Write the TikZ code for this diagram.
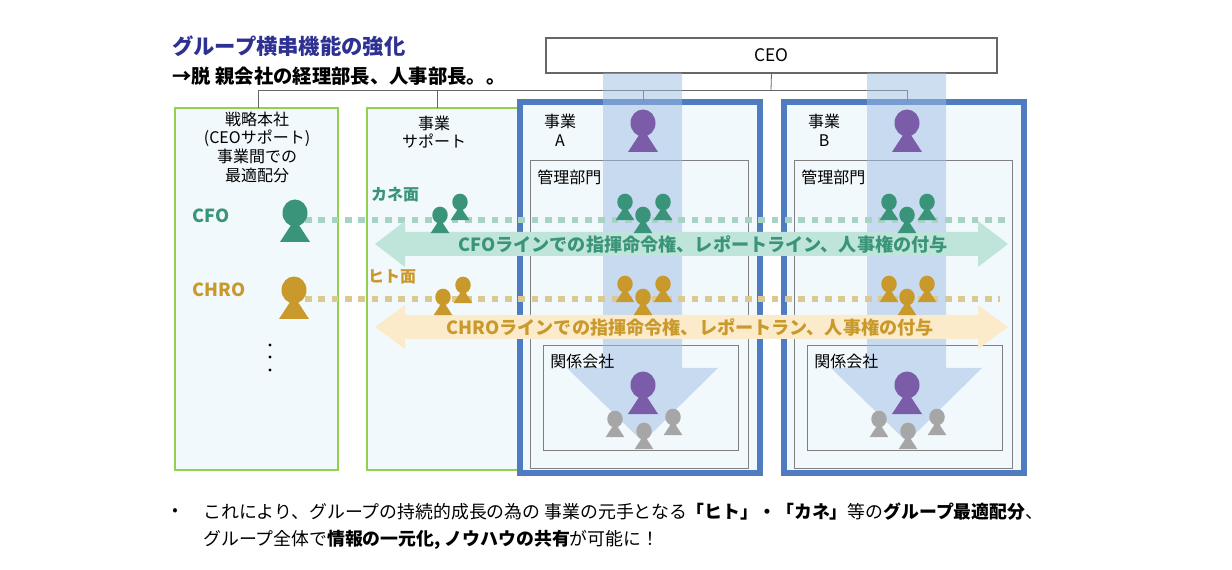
\documentclass[tikz,border=0pt]{standalone}
\usepackage{fontspec}
\setmainfont{Noto Sans CJK JP}
\usetikzlibrary{positioning}
\definecolor{titleblue}{HTML}{2E3192}
\definecolor{cfogreen}{HTML}{3A9479}
\definecolor{cfolight}{HTML}{BFE5DA}
\definecolor{cfodot}{HTML}{A8D3C4}
\definecolor{hrgold}{HTML}{C9992B}
\definecolor{hrlight}{HTML}{FCEBCB}
\definecolor{hrdot}{HTML}{DCC98F}
\definecolor{ceopurple}{HTML}{7B5CA8}
\definecolor{staffgrey}{HTML}{A6A6A6}
\definecolor{boxgreen}{HTML}{92D050}
\definecolor{boxblue}{HTML}{4F7CC0}
\definecolor{paleblue}{HTML}{F2F9FC}
\definecolor{flowblue}{HTML}{9DBDE3}
\tikzset{
  lbl/.style={font=\fontsize{12}{14}\selectfont, align=center, inner sep=0pt},
  person/.pic={
    \fill (0,-8) ellipse (12.5 and 13.5);
    \fill (0,-2) -- (-15,21) -- (15,21) -- cycle;
  },
  greenbox/.style={draw=boxgreen, line width=1.5pt, fill=paleblue},
  bizbox/.style={draw=boxblue, line width=4pt, fill=paleblue},
  greybox/.style={draw=gray, line width=0.6pt},
  orgline/.style={draw=gray!80!black, line width=0.6pt},
  dotline/.style={line width=5pt, dash pattern=on 5pt off 5pt}
}
\begin{document}
\begin{tikzpicture}[x=0.75pt,y=-0.75pt]
\useasboundingbox (0,0) rectangle (1232,570);
% title
\node[anchor=west, inner sep=0pt, font=\fontsize{16}{18}\selectfont\bfseries, text=titleblue] (title) at (172,46) {グループ横串機能の強化};
\node[anchor=west, inner sep=0pt, font=\fontsize{14.5}{16}\selectfont\bfseries] (subtitle) at (172,76) {→脱 親会社の経理部長、人事部長。。};
% organisation boxes
\node[draw=gray!80!black, line width=0.8pt, minimum width=451*0.75pt, minimum height=35*0.75pt, font=\fontsize{13}{15}\selectfont] (ceo) at (771.5,55.5) {CEO};
\draw[greenbox] (175,108) rectangle (338,470);
\draw[greenbox] (367,108) rectangle (529,470);
\draw[bizbox] (520,102) rectangle (760,473);
\draw[bizbox] (784,102) rectangle (1024,473);
\coordinate (hq) at (258,108);
\coordinate (sup) at (437,108);
\coordinate (bizA) at (643,102);
\coordinate (bizB) at (907,102);
\coordinate (bus) at (771,90);
\draw[orgline] (ceo.south) -- (bus);
\foreach \b in {hq,sup,bizA,bizB}
  \draw[orgline] (\b) -- (\b |- bus);
\draw[orgline] (hq |- bus) -- (bizB |- bus);
% inner sections
\foreach \dx/\n in {0/A,264/B}{
  \draw[greybox] (530+\dx,160) rectangle (748+\dx,468);
  \draw[greybox] (543+\dx,345) rectangle (738+\dx,450);
  \fill[flowblue, opacity=0.5] (603+\dx,73) -- (682+\dx,73) -- (682+\dx,368) -- (718+\dx,368)
    -- (643+\dx,442) -- (567+\dx,368) -- (603+\dx,368) -- cycle;
  \node[lbl] (biz\n) at (560+\dx,130) {事業\\\n};
  \node[lbl, anchor=west] (kanri\n) at (537+\dx,177) {管理部門};
  \node[lbl, anchor=west] (kankei\n) at (550+\dx,361) {関係会社};
}
% dotted lines
\coordinate (cfoS) at (305,220);
\coordinate (cfoE) at (1005,220);
\coordinate (hrS) at (305,299);
\coordinate (hrE) at (1000,299);
\draw[dotline, cfodot] (cfoS) -- (cfoE);
\draw[dotline, hrdot] (hrS) -- (hrE);
% double arrows
\fill[cfolight] (375,244) -- (405,221) -- (405,232) -- (978,232) -- (978,221) -- (1008,244)
  -- (978,267) -- (978,256) -- (405,256) -- (405,267) -- cycle;
\node[font=\fontsize{13.6}{15}\selectfont\bfseries, text=cfogreen, inner sep=0pt] (cfoline) at (703,244) {CFOラインでの指揮命令権、レポートライン、人事権の付与};
\fill[hrlight] (375,327) -- (405,305) -- (405,315) -- (978,315) -- (978,305) -- (1008,327)
  -- (978,349) -- (978,339) -- (405,339) -- (405,349) -- cycle;
\node[font=\fontsize{13.6}{15}\selectfont\bfseries, text=hrgold, inner sep=0pt] (hrline) at (690,327) {CHROラインでの指揮命令権、レポートラン、人事権の付与};
% headquarters
\node[lbl] (senryaku) at (257,147) {戦略本社\\(CEOサポート)\\事業間での\\最適配分};
\node[lbl] (jigyosup) at (434,132) {事業\\サポート};
\node[font=\fontsize{13.5}{15}\selectfont\bfseries, text=cfogreen, inner sep=0pt] (cfo) at (211,216) {CFO};
\node[font=\fontsize{13.5}{15}\selectfont\bfseries, text=hrgold, inner sep=0pt] (chro) at (219,290) {CHRO};
\pic[fill=cfogreen] at (295,221) {person};
\pic[fill=hrgold] at (294,298) {person};
\foreach \y in {345,357,370} \fill (270,\y) circle (1.6);
\node[font=\fontsize{12}{14}\selectfont\bfseries, text=cfogreen, inner sep=0pt] (kane) at (395,195) {カネ面};
\node[font=\fontsize{12}{14}\selectfont\bfseries, text=hrgold, inner sep=0pt] (hito) at (392,277) {ヒト面};
\pic[fill=cfogreen, scale=0.62] at (440,220) {person};
\pic[fill=cfogreen, scale=0.62] at (460,207) {person};
\pic[fill=hrgold, scale=0.62] at (443,302) {person};
\pic[fill=hrgold, scale=0.62] at (463,290) {person};
% business people
\foreach \dx in {0,264}{
  \pic[fill=ceopurple] at (643+\dx,131) {person};
  \pic[fill=ceopurple] at (643+\dx,393) {person};
  \pic[fill=cfogreen, scale=0.62] at (625+\dx,207) {person};
  \pic[fill=cfogreen, scale=0.62] at (663+\dx,207) {person};
  \pic[fill=cfogreen, scale=0.62] at (643+\dx,220) {person};
  \pic[fill=hrgold, scale=0.62] at (625+\dx,289) {person};
  \pic[fill=hrgold, scale=0.62] at (663+\dx,289) {person};
  \pic[fill=hrgold, scale=0.62] at (643+\dx,302) {person};
  \pic[fill=staffgrey, scale=0.62] at (615+\dx,424) {person};
  \pic[fill=staffgrey, scale=0.62] at (673+\dx,422) {person};
  \pic[fill=staffgrey, scale=0.62] at (644+\dx,436) {person};
}
% bottom note
\node[lbl, anchor=west] (bullet) at (172,512) {•};
\node[lbl, anchor=west, font=\fontsize{13.4}{15}\selectfont] (note1) at (203,512) {これにより、グループの持続的成長の為の 事業の元手となる\textbf{「ヒト」・「カネ」}等の\textbf{グループ最適配分}、};
\node[lbl, anchor=west, font=\fontsize{13.4}{15}\selectfont] (note2) at (203,540) {グループ全体で\textbf{情報の一元化, ノウハウの共有}が可能に！};
\end{tikzpicture}
\end{document}
